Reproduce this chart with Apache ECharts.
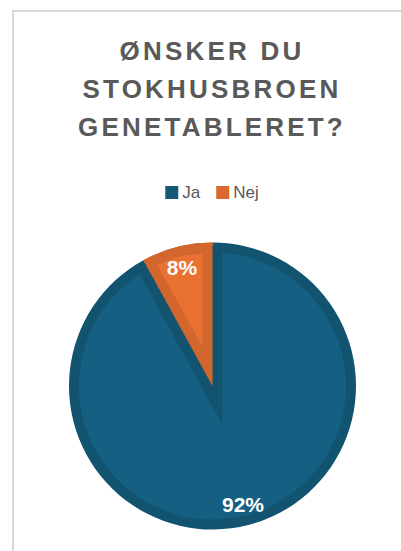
<!DOCTYPE html>
<html>
<head>
<meta charset="utf-8">
<script src="https://cdn.jsdelivr.net/npm/echarts@6/dist/echarts.min.js"></script>
<style>
  html, body { margin: 0; padding: 0; background: #fff; overflow: hidden; }
  #frame {
    position: absolute; left: 12px; top: 10px;
    width: 396px; height: 560px;
    border: 2px solid #d9d9d9;
  }
  #chart { width: 396px; height: 560px; }
  /* wide tracking on the title only */
  #chart text[style*="26px"] { letter-spacing: 3.2px; }
</style>
</head>
<body>
<div id="frame"><div id="chart"></div></div>
<script>
const titleText = "ØNSKER DU\nSTOKHUSBROEN\nGENETABLERET?";
const categories = ["Ja", "Nej"];
const values = [92, 8];

const fillColors = ["#156082", "#E97132"];
const edgeColors = ["#12536F", "#D2662C"];
const none = "rgba(0,0,0,0)";

// pie geometry (px, inside the chart box)
const cx = 198.5;
const cy = 374;
const R = 143.5;
const band = 10;
// the small slice sits between 90 and 118.8 degrees
const half = (values[1] / (values[0] + values[1])) * Math.PI;
const bis = Math.PI / 2 + half;
const shift = band / Math.sin(half);
const dx = Math.cos(bis) * shift;
const dy = -Math.sin(bis) * shift;

function slices(colors) {
  return categories.map(function (name, i) {
    return { name: name, value: values[i], itemStyle: { color: colors[i] } };
  });
}

function pie(center, radius, colors, z) {
  return {
    type: "pie",
    silent: true,
    z: z,
    center: center,
    radius: radius,
    startAngle: 90,
    avoidLabelOverlap: false,
    label: { show: false },
    labelLine: { show: false },
    emphasis: { disabled: true },
    data: slices(colors)
  };
}

const chart = echarts.init(document.getElementById("chart"), null, { renderer: "svg" });

const option = {
  animation: false,
  title: {
    text: titleText,
    left: "center",
    top: 20,
    padding: 0,
    textStyle: {
      fontFamily: "Liberation Sans",
      fontSize: 26,
      fontWeight: "bold",
      color: "#595959",
      lineHeight: 38
    }
  },
  legend: {
    top: 167,
    left: "center",
    itemWidth: 13,
    itemHeight: 13,
    itemGap: 16,
    icon: "rect",
    selectedMode: false,
    textStyle: { fontFamily: "Liberation Sans", fontSize: 17, color: "#595959", padding: [0, 0, 0, -1] },
    data: categories.map(function (name, i) {
      return { name: name, itemStyle: { color: i === 0 ? "#155878" : "#D9692E" } };
    })
  },
  series: [
    pie([cx, cy], [0, R], edgeColors, 1),
    pie([cx, cy], [0, R - band], [fillColors[0], none], 2),
    pie([cx - dx, cy - dy], [0, 180], [none, edgeColors[0]], 3),
    pie([cx, cy], [0, R], [none, edgeColors[1]], 4),
    pie([cx + dx, cy + dy], [0, R - band - shift], [none, fillColors[1]], 5),
    {
      type: "pie",
      silent: true,
      z: 6,
      center: [cx, cy],
      radius: [96, R],
      startAngle: 90,
      avoidLabelOverlap: false,
      itemStyle: { color: none },
      labelLine: { show: false },
      label: {
        show: true,
        position: "inside",
        color: "#fff",
        fontFamily: "Liberation Sans",
        fontWeight: "bold",
        fontSize: 21,
        formatter: function (p) {
          return Math.round(p.percent) + "%";
        }
      },
      data: categories.map(function (name, i) {
        return { name: name, value: values[i] };
      })
    }
  ]
};

chart.setOption(option);
</script>
</body>
</html>
